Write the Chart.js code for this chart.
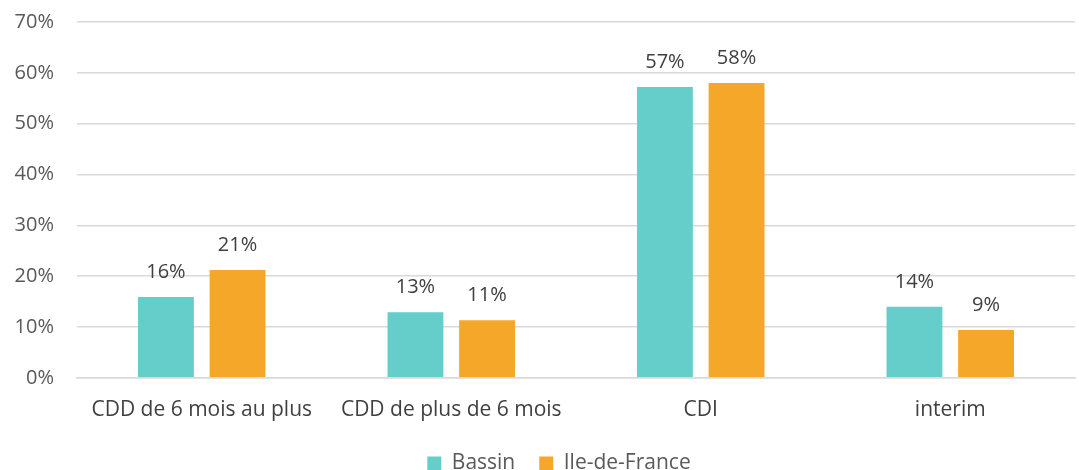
<!DOCTYPE html>
<html>
<head>
<meta charset="utf-8">
<script src="https://cdn.jsdelivr.net/npm/chart.js@4/dist/chart.umd.min.js"></script>
<style>
  html, body { margin: 0; padding: 0; background: #ffffff; }
  #wrap { width: 1079px; height: 470px; position: relative; }
</style>
</head>
<body>
<div id="wrap"><canvas id="chart"></canvas></div>
<script>
// Data
const categories = ['CDD de 6 mois au plus', 'CDD de plus de 6 mois', 'CDI', 'interim'];
const bassinValues = [15.9, 12.9, 57.2, 14.0];
const ileDeFranceValues = [21.2, 11.3, 58.0, 9.4];
const yTicks = [0, 10, 20, 30, 40, 50, 60, 70];

const FONT = "'Open Sans', sans-serif";
const TEAL = '#65cdca';
const ORANGE = '#f5a729';

// Draws the rounded value above each bar (no datalabels plugin available)
const valueLabels = {
  id: 'valueLabels',
  afterDatasetsDraw(chart) {
    const ctx = chart.ctx;
    ctx.save();
    ctx.font = '20px ' + FONT;
    ctx.fillStyle = '#404040';
    ctx.textAlign = 'center';
    ctx.textBaseline = 'alphabetic';
    chart.data.datasets.forEach((ds, i) => {
      chart.getDatasetMeta(i).data.forEach((bar, j) => {
        ctx.fillText(Math.round(ds.data[j]) + '%', bar.x, bar.y - 19);
      });
    });
    ctx.restore();
  }
};

// Excel centres the legend a bit right of the canvas middle
const legendShift = {
  id: 'legendShift',
  afterLayout(chart) {
    if (chart.legend) chart.legend.left += 30;
  }
};

new Chart(document.getElementById('chart'), {
  type: 'bar',
  data: {
    labels: categories,
    datasets: [
      { label: 'Bassin', data: bassinValues, backgroundColor: TEAL },
      { label: 'Ile-de-France', data: ileDeFranceValues, backgroundColor: ORANGE }
    ]
  },
  options: {
    responsive: true,
    maintainAspectRatio: false,
    animation: false,
    categoryPercentage: 0.574,
    barPercentage: 0.78,
    layout: { padding: { left: 13, right: 4, top: 22, bottom: -14 } },
    plugins: {
      legend: {
        position: 'bottom',
        labels: {
          font: { family: FONT, size: 21 },
          color: '#595959',
          boxWidth: 14,
          boxHeight: 14,
          padding: 24
        }
      },
      tooltip: { enabled: false }
    },
    scales: {
      y: {
        min: 0,
        max: 70,
        afterBuildTicks: (axis) => { axis.ticks = yTicks.map(v => ({ value: v })); },
        afterFit: (axis) => { axis.width = 64; axis.paddingTop = 0; axis.paddingBottom = 0; },
        grid: { color: '#d9d9d9', lineWidth: 1.5, drawTicks: false },
        border: { display: false },
        ticks: {
          padding: 23,
          font: { family: FONT, size: 20 },
          color: '#595959',
          callback: v => v + '%'
        }
      },
      x: {
        afterFit: (axis) => { axis.paddingLeft = 0; axis.paddingRight = 0; axis.height -= 6; },
        grid: { display: false },
        border: { color: '#d9d9d9', width: 1.5 },
        ticks: {
          padding: 12,
          font: { family: FONT, size: 21 },
          color: '#404040',
          maxRotation: 0
        }
      }
    }
  },
  plugins: [valueLabels, legendShift]
});
</script>
</body>
</html>
